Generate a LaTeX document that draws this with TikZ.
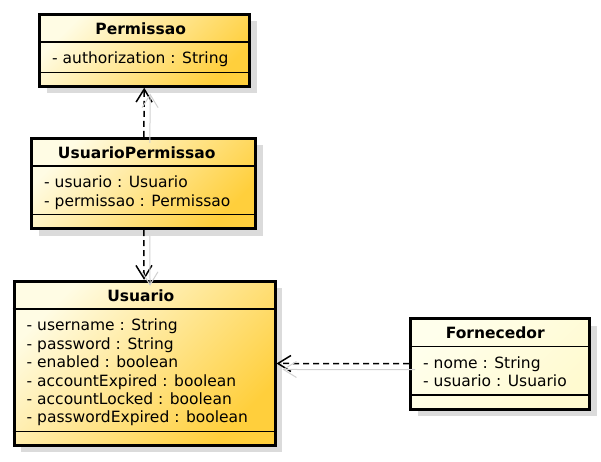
\documentclass[tikz,border=0pt]{standalone}
\usepackage{fontspec}
\setmainfont{DejaVu Sans}
\usetikzlibrary{shadows,arrows.meta}

\definecolor{cLight}{HTML}{FFFCE4}
\definecolor{cGold}{HTML}{FFCF3C}
\definecolor{fLight}{HTML}{FFFFEC}
\definecolor{fDark}{HTML}{FFFAD0}

\tikzstyle{cS}=[rectangle, draw, line width=3pt, inner sep=0pt, anchor=north west, top color=cLight, bottom color=cGold, shading angle=45, drop shadow={shadow xshift=7pt, shadow yshift=-7pt, fill=black!14, opacity=1}]
\tikzstyle{fS}=[cS, top color=fLight, bottom color=fDark, shading angle=45]
\tikzstyle{tS}=[anchor=base, inner sep=0pt, font=\fontsize{15.5}{18.4}\selectfont\bfseries]
\tikzstyle{aS}=[anchor=north west, inner sep=0pt, align=left, font=\fontsize{15.5}{18.4}\selectfont]
\tikzstyle{sepS}=[line width=1.2pt]
\tikzstyle{dS}=[draw, line width=1.5pt, dash pattern=on 6pt off 4pt, -{Straight Barb[length=13pt,width=16pt]}]
\tikzstyle{dShS}=[draw=black!18, line width=1pt, -{Straight Barb[length=13pt,width=16pt]}]

\begin{document}
\begin{tikzpicture}[x=1pt,y=-1pt]
        \useasboundingbox (0,0) rectangle (601,462);
                % classes
                \draw (38,12.8) node[cS, minimum width=210pt, minimum height=71.9pt] (perm) {};
                \draw (30,136.8) node[cS, minimum width=224pt, minimum height=90.3pt] (usuperm) {};
                \draw (12.5,279.8) node[cS, minimum width=261pt, minimum height=163.9pt] (usu) {};
                \draw (409,317.2) node[fS, minimum width=179pt, minimum height=90.3pt] (forn) {};
                % names
                \path (perm.north) ++(-3.8,21.5) node[tS] (permN) {Permissao};
                \path (usuperm.north) ++(-6.8,21.5) node[tS] (usupermN) {UsuarioPermissao};
                \path (usu.north) ++(-3.7,21.5) node[tS] (usuN) {Usuario};
                \path (forn.north) ++(-4.7,21.5) node[tS] (fornN) {Fornecedor};
                % attributes
                \path (perm.north west) ++(14,38.1) node[aS] (permA) {\strut- authorization : String};
                \path (usuperm.north west) ++(14,38.1) node[aS] (usupermA) {\strut- usuario : Usuario\\- permissao : Permissao};
                \path (usu.north west) ++(14,38.1) node[aS] (usuA) {\strut- username : String\\- password : String\\- enabled : boolean\\- accountExpired : boolean\\- accountLocked : boolean\\- passwordExpired : boolean};
                \path (forn.north west) ++(14,38.1) node[aS] (fornA) {\strut- nome : String\\- usuario : Usuario};
                % compartment lines
                \draw[sepS] ([yshift=-29.2pt]perm.north west) -- ([yshift=-29.2pt]perm.north east);
                \draw[sepS] ([yshift=-59.4pt]perm.north west) -- ([yshift=-59.4pt]perm.north east);
                \draw[sepS] ([yshift=-29.2pt]usuperm.north west) -- ([yshift=-29.2pt]usuperm.north east);
                \draw[sepS] ([yshift=-77.8pt]usuperm.north west) -- ([yshift=-77.8pt]usuperm.north east);
                \draw[sepS] ([yshift=-29.2pt]usu.north west) -- ([yshift=-29.2pt]usu.north east);
                \draw[sepS] ([yshift=-151.4pt]usu.north west) -- ([yshift=-151.4pt]usu.north east);
                \draw[sepS] ([yshift=-29.2pt]forn.north west) -- ([yshift=-29.2pt]forn.north east);
                \draw[sepS] ([yshift=-77.8pt]forn.north west) -- ([yshift=-77.8pt]forn.north east);
                % dependencies
                \path
                    (usuperm) edge[dS] (perm)
                    (usuperm) edge[dS] (usu)
                    (forn) edge[dS] (usu)
                ;
                % shadows of the dependencies
                \begin{scope}[transform canvas={shift={(6pt,-6pt)}}]
                \path
                    (usuperm) edge[dShS] (perm)
                    (usuperm) edge[dShS] (usu)
                    (forn) edge[dShS] (usu)
                ;
                \end{scope}
\end{tikzpicture}
\end{document}
